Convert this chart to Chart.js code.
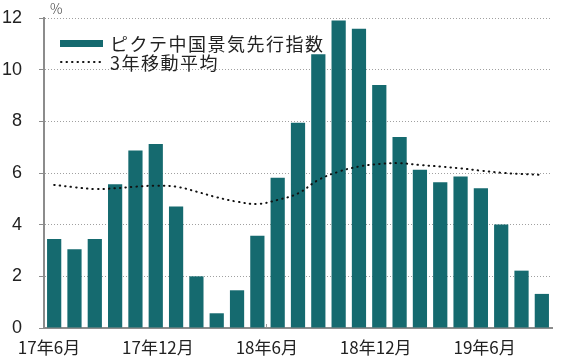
<!DOCTYPE html>
<html>
<head>
<meta charset="utf-8">
<script src="https://cdn.jsdelivr.net/npm/chart.js@4.4.1/dist/chart.umd.min.js"></script>
<style>
  html, body { margin: 0; padding: 0; background: #fff; }
  #wrap { width: 580px; height: 363px; }
</style>
</head>
<body>
<div id="wrap"><canvas id="chart" width="580" height="363"></canvas></div>
<script>
// monthly categories 2017/6 .. 2019/6
const months = [
    '17/6', '17/7', '17/8', '17/9', '17/10', '17/11', '17/12',
    '18/1', '18/2', '18/3', '18/4', '18/5', '18/6', '18/7', '18/8',
    '18/9', '18/10', '18/11', '18/12', '19/1', '19/2', '19/3', '19/4',
    '19/5', '19/6'
];
const leadingIndex = [
    3.45, 3.05, 3.45, 5.56, 6.87, 7.12, 4.70, 2.00, 0.57, 1.46,
    3.57, 5.82, 7.95, 10.60, 11.90, 11.58, 9.41, 7.39, 6.13, 5.64,
    5.86, 5.41, 4.01, 2.22, 1.32
];
const movingAvg3y = [
    5.54, 5.45, 5.38, 5.41, 5.47, 5.51, 5.47, 5.28, 5.06, 4.89,
    4.80, 4.96, 5.21, 5.73, 6.05, 6.25, 6.35, 6.38, 6.31, 6.25,
    6.18, 6.09, 6.01, 5.96, 5.93
];
const xTickLabels = ['17年6月', '17年12月', '18年6月', '18年12月', '19年6月'];
const yTicks = [0, 2, 4, 6, 8, 10, 12];
const seriesNames = ['ピクテ中国景気先行指数', '3年移動平均'];

const BAR_COLOR = '#156a6f';
const CJK = "'Noto Sans CJK JP', sans-serif";

// legend + unit label drawn inside the plot
const legendPlugin = {
    id: 'insideLegend',
    afterDraw(chart) {
        const ctx = chart.ctx;
        ctx.save();
        ctx.fillStyle = '#444';
        ctx.font = '300 14px ' + CJK;
        ctx.textBaseline = 'middle';
        ctx.fillText('%', 50, 9);

        ctx.fillStyle = BAR_COLOR;
        ctx.fillRect(60, 40, 43, 7);

        ctx.strokeStyle = '#111';
        ctx.lineWidth = 2;
        ctx.lineCap = 'round';
        ctx.setLineDash([0.5, 5]);
        ctx.beginPath();
        ctx.moveTo(61, 62);
        ctx.lineTo(103, 62);
        ctx.stroke();
        ctx.setLineDash([]);

        ctx.fillStyle = '#222';
        ctx.font = '18px ' + CJK;
        ctx.letterSpacing = '1.5px';
        ctx.fillText(seriesNames[0], 110, 44);
        ctx.fillText(seriesNames[1], 110, 63);
        ctx.restore();
    }
};

new Chart(document.getElementById('chart'), {
    type: 'bar',
    data: {
        labels: months,
        datasets: [
            {
                type: 'line',
                label: seriesNames[1],
                data: movingAvg3y,
                borderColor: '#111',
                borderWidth: 2,
                borderDash: [0.5, 5],
                borderCapStyle: 'round',
                pointRadius: 0,
                tension: 0.4,
                fill: false,
                order: 0
            },
            {
                label: seriesNames[0],
                data: leadingIndex,
                backgroundColor: BAR_COLOR,
                borderWidth: 0,
                barPercentage: 0.7,
                categoryPercentage: 1.0,
                order: 1
            }
        ]
    },
    options: {
        responsive: false,
        animation: false,
        layout: { padding: { top: 18, right: 28, left: 0, bottom: 0 } },
        plugins: {
            legend: { display: false },
            tooltip: { enabled: false }
        },
        scales: {
            x: {
                display: false,
                offset: true
            },
            x2: {
                type: 'linear',
                position: 'bottom',
                offset: false,
                min: -0.046,
                max: 4.619,
                afterBuildTicks: (axis) => {
                    axis.ticks = xTickLabels.map((_, i) => ({ value: i }));
                },
                afterFit: (axis) => {
                    axis.height = 35;
                    axis.paddingLeft = 0;
                    axis.paddingRight = 0;
                },
                // short tick marks pointing up into the plot
                grid: {
                    display: true,
                    drawOnChartArea: false,
                    drawTicks: true,
                    tickLength: -4,
                    offset: false,
                    tickColor: (c) => (c.index === 0 ? 'rgba(0,0,0,0)' : '#9a9a9a')
                },
                border: { display: true, color: '#8c8c8c', width: 2 },
                ticks: {
                    autoSkip: false,
                    maxRotation: 0,
                    padding: 13,
                    color: '#222',
                    font: { family: CJK, size: 17 },
                    callback: (v) => xTickLabels[v] ?? ''
                }
            },
            y: {
                min: 0,
                max: 12,
                afterBuildTicks: (axis) => {
                    axis.ticks = yTicks.map(v => ({ value: v }));
                },
                afterFit: (axis) => {
                    axis.width = 44;
                    axis.paddingTop = 0;
                    axis.paddingBottom = 0;
                },
                grid: {
                    color: '#a0a0a0',
                    lineWidth: 1,
                    drawTicks: true,
                    tickLength: 5,
                    tickColor: '#8c8c8c',
                    tickBorderDash: []
                },
                border: { display: true, color: '#8c8c8c', width: 2, dash: [1, 2] },
                ticks: {
                    padding: 17,
                    color: '#222',
                    font: { family: "'Liberation Sans', Arial, sans-serif", size: 18 }
                }
            }
        }
    },
    plugins: [legendPlugin]
});
</script>
</body>
</html>
